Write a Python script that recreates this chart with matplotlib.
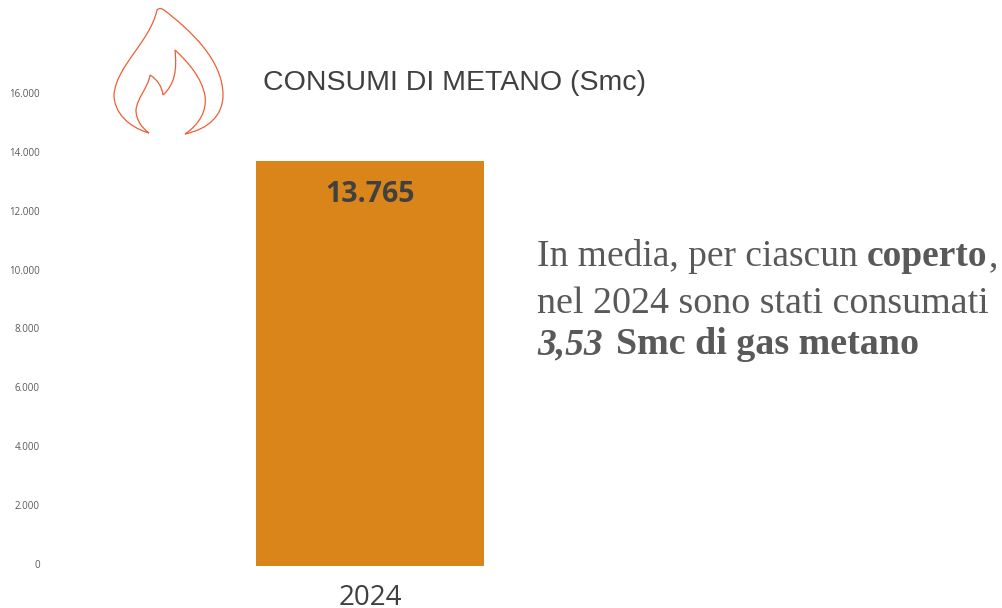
import matplotlib
matplotlib.use('Agg')
import matplotlib.pyplot as plt
from matplotlib.path import Path
from matplotlib.patches import PathPatch
from matplotlib.transforms import ScaledTranslation

years = ['2024']
consumi = [13765]
tick_values = [0, 2000, 4000, 6000, 8000, 10000, 12000, 14000, 16000]
tick_labels = ['0', '2.000', '4.000', '6.000', '8.000', '10.000', '12.000', '14.000', '16.000']

W, H = 1003, 608
fig = plt.figure(figsize=(W / 100, H / 100), dpi=100)

# axes in pixels: 0 at y=566, 16000 at y=95
ax = fig.add_axes([46 / W, (H - 566) / H, (650 - 46) / W, (566 - 95) / H])
ax.bar([0], consumi, width=228, color='#DA851A')
ax.set_xlim(-324, 280)
ax.set_ylim(0, 16000)
ax.set_xticks([0])
ax.set_xticklabels(years, fontsize=20, color='#404040', family='Open Sans')
ax.set_yticks(tick_values)
ax.set_yticklabels(tick_labels, fontsize=7, color='#595959', family='Open Sans')
ax.tick_params(length=0)
ax.tick_params(axis='x', pad=13)
ax.tick_params(axis='y', pad=4.5)
# y labels sit a little above their gridline position
for lab in ax.get_yticklabels():
    lab.set_transform(lab.get_transform() + ScaledTranslation(0, 1.5 / 72, fig.dpi_scale_trans))
for s in ax.spines.values():
    s.set_visible(False)
ax.patch.set_alpha(0)

ax.annotate('13.765', (0, consumi[0]), xytext=(0, -24.5), textcoords='offset points',
            ha='center', va='center', fontsize=20.5, fontweight='bold', color='#404040',
            family='Open Sans')

fig.text(263 / W, 1 - 90 / H, 'CONSUMI DI METANO (Smc)', fontsize=20.5, color='#404040',
         family='Liberation Sans', va='baseline')

# paragraph on the right
serif = 'Liberation Serif'
c = '#595959'
y1, y2, y3 = 1 - 266 / H, 1 - 313 / H, 1 - 354 / H
fig.text(537 / W, y1, 'In media, per ciascun', fontsize=27, color=c, family=serif)
fig.text(867 / W, y1, 'coperto', fontsize=27, color=c, family=serif, fontweight='bold')
fig.text(989 / W, y1, ',', fontsize=27, color=c, family=serif)
fig.text(537 / W, y2, 'nel 2024 sono stati consumati', fontsize=27.4, color=c, family=serif)
fig.text(537 / W, y3, '3,53', fontsize=27, color=c, family=serif, fontweight='bold', style='italic')
fig.text(616 / W, y3, 'Smc di gas metano', fontsize=27.4, color=c, family=serif, fontweight='bold')

# flame icon, in pixel coordinates
over = fig.add_axes([0, 0, 1, 1])
over.set_xlim(0, W)
over.set_ylim(H, 0)
over.axis('off')
M, C = Path.MOVETO, Path.CURVE4
outer = [(149, 133), (128, 127), (114, 112), (114, 95),
         (116, 66), (150, 42), (157, 10),
         (159, 8), (161, 8), (164, 10),
         (190, 30), (223, 60), (223, 95),
         (223, 116), (208, 129), (185, 134),
         (200, 124), (207, 110), (205, 96),
         (202, 78), (188, 62), (175, 50),
         (177, 70), (175, 84), (163, 95),
         (162, 87), (158, 80), (150, 75),
         (148, 88), (137, 98), (136, 110),
         (136, 120), (142, 128), (149, 133)]
codes = [M] + [C] * (len(outer) - 1)
over.add_patch(PathPatch(Path(outer, codes), fill=False, edgecolor='#EE5F35', linewidth=0.9))

fig.savefig('out.png', dpi=100)
